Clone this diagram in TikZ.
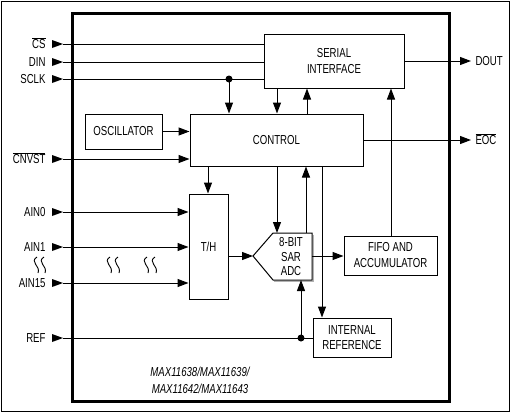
\documentclass[tikz,border=0pt]{standalone}
\usepackage{fontspec}
\setmainfont{Liberation Sans}[FakeStretch=0.74]
\usetikzlibrary{arrows.meta}
\newcommand\ovl[1]{$\overline{\hbox{#1}}$}
\newcommand\lbl{\fontsize{13}{16}\selectfont}
\begin{document}
\begin{tikzpicture}[x=1pt,y=-1pt,line width=1pt,
  box/.style={draw,line width=1pt,inner sep=0pt,align=center,font=\lbl},
  arr/.style={-{Triangle[length=11pt,width=8pt]}},
  pinl/.style={inner sep=0pt,font=\lbl},
  dot/.style={circle,fill,inner sep=0pt,minimum size=7pt},
  sq/.style={line width=0.9pt}]
\useasboundingbox (0,0) rectangle (512,413);
% borders
\draw[line width=1pt] (1,1) rectangle (509.5,411.5);
\draw[line width=3pt] (72,13) rectangle (449,401);
% blocks
\node[box,minimum width=140pt,minimum height=54pt] (serial) at (334,61) {SERIAL\\INTERFACE};
\node[box,minimum width=77pt,minimum height=35pt] (osc) at (123.5,131.5) {OSCILLATOR};
\node[box,minimum width=173pt,minimum height=52pt] (control) at (276.5,140) {CONTROL};
\node[box,minimum width=39pt,minimum height=105pt] (th) at (208.5,246.5) {T/H};
\node[box,minimum width=93pt,minimum height=39pt] (fifo) at (390.5,255.5) {FIFO AND\\ACCUMULATOR};
\node[box,minimum width=78pt,minimum height=39pt,font=\fontsize{13}{15}\selectfont] (intref) at (352,337.5) {INTERNAL\\REFERENCE};
% ADC
\coordinate (adcL) at (253,256);
\coordinate (adcTL) at (273,233);
\coordinate (adcTR) at (312,233);
\coordinate (adcBR) at (312,280);
\coordinate (adcBL) at (273,280);
\draw[gray!60,line width=1.5pt] (313.5,234.5) -- (313.5,281.5) -- (274,281.5);
\draw (adcL) -- (adcTL) -- (adcTR) -- (adcBR) -- (adcBL) -- cycle;
\node[pinl,align=center,font=\fontsize{13}{14.5}\selectfont] (adc) at (291,257) {8-BIT\\SAR\\ADC};
% pins
\coordinate (csp) at (63,44);
\coordinate (dinp) at (63,62);
\coordinate (sclkp) at (63,79);
\coordinate (cnvstp) at (63,159);
\coordinate (ain0p) at (63,212);
\coordinate (ain1p) at (63,247);
\coordinate (ain15p) at (63,283);
\coordinate (refp) at (63,338);
\coordinate (doutp) at (471,61);
\coordinate (eocp) at (471,140);
\foreach \p in {csp,dinp,sclkp,cnvstp,ain0p,ain1p,ain15p,refp}
  \fill[shift={(\p)}] (-11,-4) -- (0,0) -- (-11,4) -- cycle;
\node[pinl,anchor=base east] (csl) at (46,48.6) {\ovl{CS}};
\node[pinl,anchor=base east] (dinl) at (46,66.6) {DIN};
\node[pinl,anchor=base east] (sclkl) at (46,83.6) {SCLK};
\node[pinl,anchor=base east] (cnvstl) at (46,163.6) {\ovl{CNVST}};
\node[pinl,anchor=base east] (ain0l) at (46,216.6) {AIN0};
\node[pinl,anchor=base east] (ain1l) at (46,251.6) {AIN1};
\node[pinl,anchor=base east] (ain15l) at (46,287.6) {AIN15};
\node[pinl,anchor=base east] (refl) at (46,342.6) {REF};
\node[pinl,anchor=base west] (doutl) at (475,65.6) {DOUT};
\node[pinl,anchor=base west] (eocl) at (475,144.6) {\ovl{EOC}};
% connectors
\draw (csp) -- (csp -| serial.west);
\draw (dinp) -- (dinp -| serial.west);
\draw (sclkp) -- (sclkp -| serial.west);
\node[dot] (sclkdot) at (229,79) {};
\draw[arr] (sclkdot.center) -- (sclkdot |- control.north);
\draw[arr] (osc.east) -- (osc.east -| control.west);
\draw[arr] (cnvstp) -- (cnvstp -| control.west);
\coordinate (c1) at (208,166);
\draw[arr] (c1) -- (c1 |- th.north);
\coordinate (s1) at (277,88);
\draw[arr] (s1) -- (s1 |- control.north);
\coordinate (s2) at (307,114);
\draw[arr] (s2) -- (s2 |- serial.south);
\coordinate (f1) at (391,236);
\draw[arr] (f1) -- (f1 |- serial.south);
\draw[arr] (serial.east |- doutp) -- (doutp);
\draw[arr] (control.east |- eocp) -- (eocp);
\draw[arr] (ain0p) -- (ain0p -| th.west);
\draw[arr] (ain1p) -- (ain1p -| th.west);
\draw[arr] (ain15p) -- (ain15p -| th.west);
\draw[arr] (adcL -| th.east) -- (adcL);
\coordinate (c2) at (277,166);
\draw[arr] (c2) -- (c2 |- adcTL);
\coordinate (a1) at (306,233);
\draw[arr] (a1) -- (a1 |- control.south);
\coordinate (c3) at (322,166);
\draw[arr] (c3) -- (c3 |- intref.north);
\draw[arr] (adcL -| adcTR) -- (adcL -| fifo.west);
\draw (refp) -- (refp -| intref.west);
\node[dot] (refdot) at (301,338) {};
\draw[arr] (refdot.center) -- (refdot |- adcBR);
% squiggles
\foreach \cx/\cy in {35/265, 42/265, 108/265, 116/265, 145/265, 153/265}
  \draw[sq] (\cx+2,\cy-8) .. controls (\cx-6,\cy-3) and (\cx+6,\cy+1) .. (\cx+3,\cy+8);
% part numbers
\node[pinl,align=center,font=\fontsize{13}{17}\selectfont\itshape] (part) at (200,380.5) {MAX11638/MAX11639/\\MAX11642/MAX11643};
\end{tikzpicture}
\end{document}
